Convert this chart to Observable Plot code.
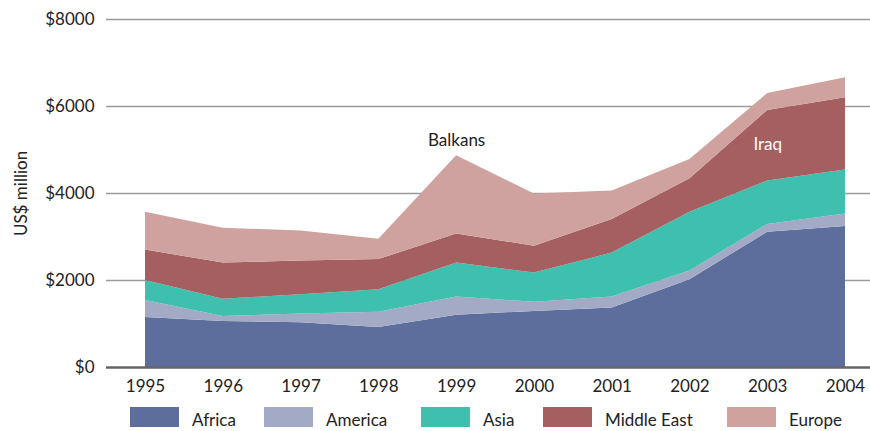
<!DOCTYPE html>
<html><head><meta charset="utf-8">
<script src="https://cdn.jsdelivr.net/npm/d3@7"></script>
<script src="https://cdn.jsdelivr.net/npm/@observablehq/plot@0.6"></script>
<style>
html,body{margin:0;padding:0;background:#fff;width:870px;height:431px;overflow:hidden;font-family:Lato,"DejaVu Sans",sans-serif;}
#legend{position:relative;height:26px;}
.item{position:absolute;top:2px;display:flex;align-items:flex-start;font-size:17px;color:#222;line-height:20px;}
.sw{width:49px;height:20px;margin-right:13px;}
.lbl{margin-top:3px;}
</style></head><body>
<div id="chart"></div>
<div id="legend"></div>
<script>
const years = [1995,1996,1997,1998,1999,2000,2001,2002,2003,2004];
const regions = ["Africa","America","Asia","Middle East","Europe"];
const colors = ["#5d6e9c","#a3aac6","#3fbfad","#a65f61","#cfa2a0"];
const africa     = [1150,1060,1030, 920,1200,1290,1370,2020,3110,3240];
const america    = [ 390, 110, 200, 350, 420, 210, 250, 200, 180, 290];
const asia       = [ 460, 400, 440, 520, 780, 670,1010,1350,1000,1010];
const middleEast = [ 700, 830, 780, 690, 670, 620, 770, 770,1620,1660];
const europe     = [ 870, 800, 690, 470,1800,1200, 660, 440, 390, 460];
const yTicks = [0,2000,4000,6000,8000];
const notes = [
  {year:1999, value:5220, text:"Balkans", color:"#222"},
  {year:2003, value:5130, text:"Iraq", color:"#fff"}
];

const series = [africa, america, asia, middleEast, europe];
const data = [];
regions.forEach((r,i)=>years.forEach((y,j)=>data.push({region:r, year:y, value:series[i][j]})));

const chart = Plot.plot({
  width: 870, height: 405,
  marginLeft: 106, marginRight: 0, marginTop: 19, marginBottom: 38,
  style: {fontFamily: "Lato, 'DejaVu Sans', sans-serif", fontSize: "17px", color: "#222"},
  x: {domain: [1995, 2004], insetLeft: 39, insetRight: 25, ticks: years, tickFormat: d => String(d), tickSize: 0, tickPadding: 12, label: null},
  y: {domain: [0, 8000], ticks: yTicks, tickFormat: d => "$" + d, tickSize: 0, tickPadding: 12,
      label: "US$ million", labelAnchor: "center", labelArrow: "none", labelOffset: 92},
  color: {domain: regions, range: colors},
  marks: [
    Plot.ruleY(yTicks.filter(d => d > 0), {stroke: "#9a9a9a", strokeWidth: 1.5}),
    Plot.areaY(data, Plot.stackY({order: regions}, {x: "year", y: "value", z: "region", fill: "region"})),
    Plot.ruleY([0], {stroke: "#666", strokeWidth: 2.5}),
    Plot.text(notes, {x: "year", y: "value", text: "text", fill: "color", fontSize: 17})
  ]
});
document.getElementById("chart").append(chart);

const lx = [130, 264, 421, 543, 727];
const leg = document.getElementById("legend");
regions.forEach((r,i)=>{
  const it = document.createElement("div");
  it.className = "item";
  it.style.left = lx[i] + "px";
  it.innerHTML = `<div class="sw" style="background:${colors[i]}"></div><div class="lbl">${r}</div>`;
  leg.append(it);
});
</script>
</body></html>
